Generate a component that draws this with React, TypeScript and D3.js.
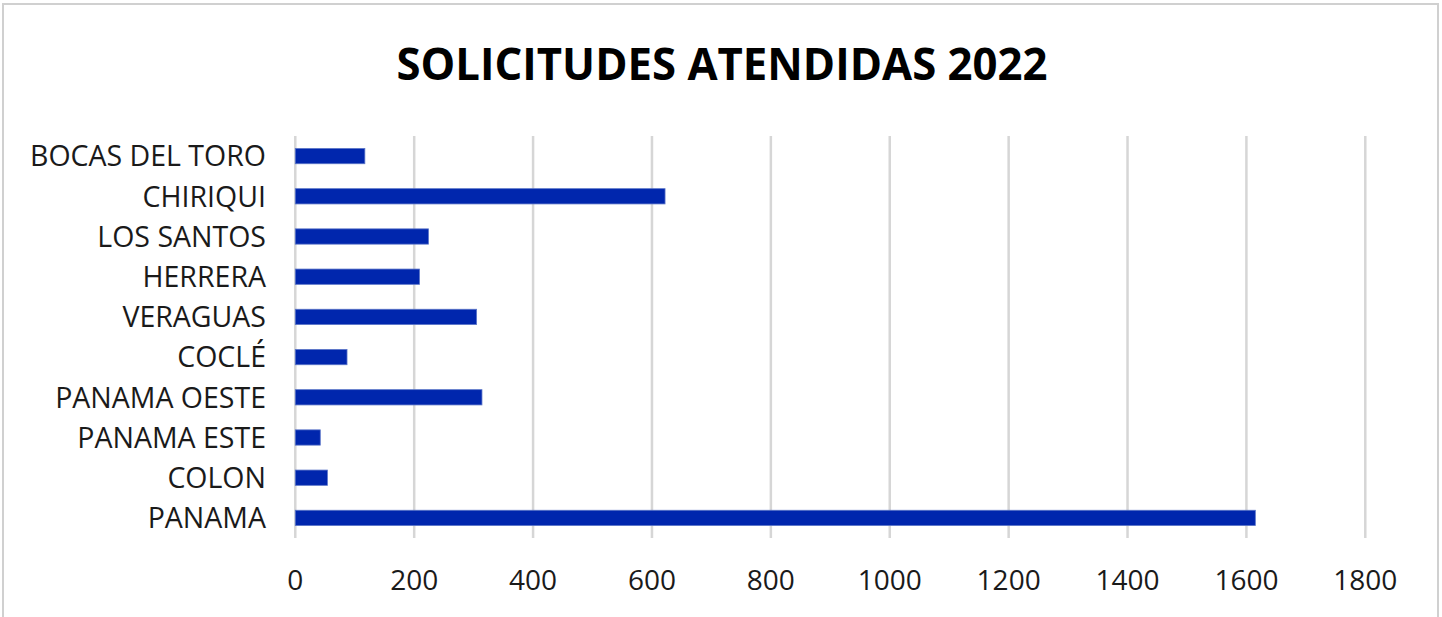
import React from 'react';
import * as d3 from 'd3';

// data, top to bottom
const provincias = [
  'BOCAS DEL TORO',
  'CHIRIQUI',
  'LOS SANTOS',
  'HERRERA',
  'VERAGUAS',
  'COCLÉ',
  'PANAMA OESTE',
  'PANAMA ESTE',
  'COLON',
  'PANAMA',
];
const solicitudes = [117, 622, 224, 209, 305, 87, 314, 42, 54, 1615];
const xTicks = [0, 200, 400, 600, 800, 1000, 1200, 1400, 1600, 1800];

const W = 1442;
const H = 617;
const FONT = '"Open Sans", "DejaVu Sans", sans-serif';

export default function App() {
  const x = d3.scaleLinear().domain([0, 1800]).range([295.3, 1365.3]);
  const y = d3.scaleBand<string>().domain(provincias).range([136, 538]).paddingInner(0.62).paddingOuter(0.31);
  const [y0, y1] = y.range();

  return (
    <svg
      width={W}
      height={H}
      style={{ position: 'absolute', left: 0, top: 0, background: '#fff' }}
    >
      {/* chart frame */}
      <rect x={3} y={4} width={1435} height={H + 10} fill="#fff" stroke="#d0d0d0" strokeWidth={2} />

      <text
        x={722}
        y={80}
        textAnchor="middle"
        fontFamily={FONT}
        fontWeight="bold"
        fontSize={45}
        textLength={651}
        lengthAdjust="spacingAndGlyphs"
        fill="#000"
      >
        SOLICITUDES ATENDIDAS 2022
      </text>

      {/* vertical gridlines */}
      {xTicks.map(t => (
        <line key={t} x1={x(t)} x2={x(t)} y1={y0} y2={y1} stroke="#d6d6d6" strokeWidth={2.5} />
      ))}

      {/* bars */}
      {provincias.map((p, i) => (
        <rect
          key={p}
          x={x(0)}
          y={y(p)}
          width={x(solicitudes[i]) - x(0)}
          height={y.bandwidth()}
          fill="#0026ad"
          stroke="#5a74c8"
          strokeWidth={0.8}
        />
      ))}

      {/* category labels */}
      {provincias.map(p => (
        <text
          key={p}
          x={266}
          y={(y(p) ?? 0) + y.bandwidth() / 2}
          dy="0.36em"
          textAnchor="end"
          fontFamily={FONT}
          fontSize={28.5}
          fill="#1a1a1a"
        >
          {p}
        </text>
      ))}

      {/* x tick labels */}
      {xTicks.map(t => (
        <text
          key={t}
          x={x(t)}
          y={590}
          textAnchor="middle"
          fontFamily={FONT}
          fontSize={28}
          fill="#1a1a1a"
        >
          {t}
        </text>
      ))}
    </svg>
  );
}
